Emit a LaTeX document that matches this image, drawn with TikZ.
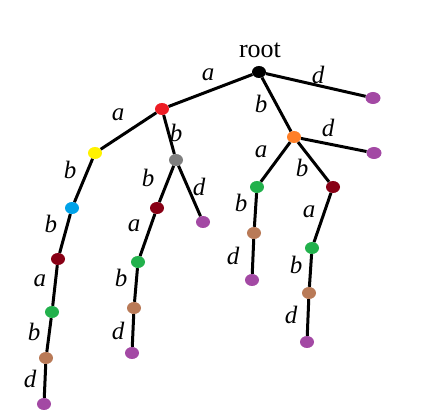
\documentclass[tikz,border=0pt]{standalone}
\usepackage{fontspec}
\setmainfont{Liberation Serif}
\usetikzlibrary{shapes.geometric}
\definecolor{pRed}{RGB}{237,28,36}
\definecolor{pOrange}{RGB}{255,127,39}
\definecolor{pYellow}{RGB}{255,242,0}
\definecolor{pGray}{RGB}{127,127,127}
\definecolor{pBlue}{RGB}{0,162,232}
\definecolor{pWine}{RGB}{136,0,21}
\definecolor{pGreen}{RGB}{34,177,76}
\definecolor{pBrown}{RGB}{185,122,87}
\definecolor{pPurple}{RGB}{163,73,164}
\tikzset{
  vertex/.style={ellipse, fill=#1, inner sep=0pt, minimum width=14pt, minimum height=12pt},
  link/.style={line width=3pt},
  lbl/.style={font=\fontsize{25}{25}\selectfont\itshape, inner sep=0pt}
}

\begin{document}
\begin{tikzpicture}[x=1pt,y=-1pt]
\useasboundingbox (0,0) rectangle (437,419);
% vertices
\node[vertex=black] (r) at (259,72) {};
\node[anchor=base, font=\fontsize{26}{26}\selectfont, inner sep=0pt] (rootlbl) at (260,58) {root};
\node[vertex=pPurple, minimum width=15pt] (rd) at (373,98) {};
\node[vertex=pRed] (ra) at (162,109) {};
\node[vertex=pOrange] (rb) at (294,137) {};
%     right part
\node[vertex=pPurple, minimum width=15pt] (rbd) at (374,153) {};
\node[vertex=pGreen] (rba) at (257,187) {};
\node[vertex=pWine] (rbb) at (333,187) {};
\node[vertex=pBrown] (rbab) at (254,233) {};
\node[vertex=pPurple] (rbabd) at (252,280) {};
\node[vertex=pGreen] (rbba) at (312,248) {};
\node[vertex=pBrown] (rbbab) at (309,293) {};
\node[vertex=pPurple] (rbbabd) at (307,342) {};
%     left part
\node[vertex=pYellow] (raa) at (95,153) {};
\node[vertex=pGray] (rab) at (176,160) {};
\node[vertex=pWine] (rabb) at (157,208) {};
\node[vertex=pPurple] (rabd) at (203,222) {};
\node[vertex=pGreen] (rabba) at (138,262) {};
\node[vertex=pBrown] (rabbab) at (134,308) {};
\node[vertex=pPurple] (rabbabd) at (132,353) {};
\node[vertex=pBlue] (raab) at (72,208) {};
\node[vertex=pWine] (raabb) at (58,259) {};
\node[vertex=pGreen] (raabba) at (52,312) {};
\node[vertex=pBrown] (raabbab) at (46,358) {};
\node[vertex=pPurple] (raabbabd) at (44,404) {};
% links
\draw[link] (r) -- (rd);
\draw[link] (r) -- (ra);
\draw[link] (r) -- (rb);
\draw[link] (rb) -- (rbd);
\draw[link] (rb) -- (rba);
\draw[link] (rb) -- (rbb);
\draw[link] (rba) -- (rbab);
\draw[link] (rbab) -- (rbabd);
\draw[link] (rbb) -- (rbba);
\draw[link] (rbba) -- (rbbab);
\draw[link] (rbbab) -- (rbbabd);
\draw[link] (ra) -- (raa);
\draw[link] (ra) -- (rab);
\draw[link] (rab) -- (rabb);
\draw[link] (rab) -- (rabd);
\draw[link] (rabb) -- (rabba);
\draw[link] (rabba) -- (rabbab);
\draw[link] (rabbab) -- (rabbabd);
\draw[link] (raa) -- (raab);
\draw[link] (raab) -- (raabb);
\draw[link] (raabb) -- (raabba);
\draw[link] (raabba) -- (raabbab);
\draw[link] (raabbab) -- (raabbabd);
% labels
\node[lbl] (l1) at (208,75) {a};
\node[lbl] (l2) at (318,75) {d};
\node[lbl] (l3) at (261,104) {b};
\node[lbl] (l4) at (328,128) {d};
\node[lbl] (l5) at (261,152) {a};
\node[lbl] (l6) at (302,168) {b};
\node[lbl] (l7) at (241,203) {b};
\node[lbl] (l8) at (233,256) {d};
\node[lbl] (l9) at (309,212) {a};
\node[lbl] (l10) at (296,265) {b};
\node[lbl] (l11) at (291,315) {d};
\node[lbl] (l12) at (118,115) {a};
\node[lbl] (l13) at (176,133) {b};
\node[lbl] (l14) at (70,170) {b};
\node[lbl] (l15) at (148,178) {b};
\node[lbl] (l16) at (199,187) {d};
\node[lbl] (l17) at (51,224) {b};
\node[lbl] (l18) at (40,281) {a};
\node[lbl] (l19) at (34,332) {b};
\node[lbl] (l20) at (30,379) {d};
\node[lbl] (l21) at (134,226) {a};
\node[lbl] (l22) at (121,278) {b};
\node[lbl] (l23) at (118,331) {d};
\end{tikzpicture}
\end{document}
